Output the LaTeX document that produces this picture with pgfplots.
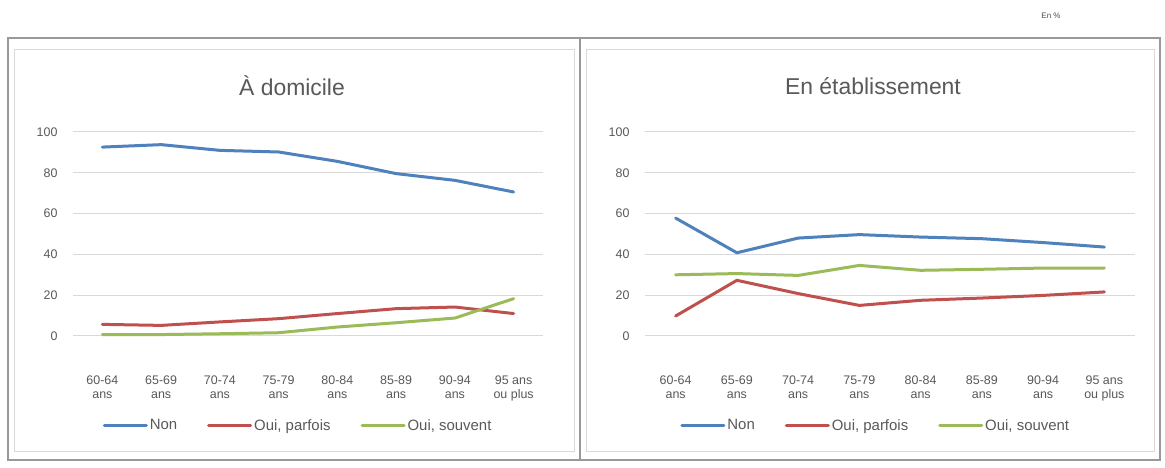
\documentclass[border=0pt]{standalone}
\usepackage{fontspec}
\setmainfont{Liberation Sans}
\usepackage{pgfplots}
\pgfplotsset{compat=1.18}
\definecolor{cblue}{HTML}{4F81BD}
\definecolor{cred}{HTML}{C0504D}
\definecolor{cgreen}{HTML}{9BBB59}
\definecolor{txt}{HTML}{595959}
\definecolor{gridc}{HTML}{D9D9D9}
\pgfplotsset{panel/.style={
  scale only axis, height=204bp,
  xmin=-0.5, xmax=7.5, ymin=0, ymax=100,
  xtick={0,...,7},
  xticklabels={{60-64\\ans},{65-69\\ans},{70-74\\ans},{75-79\\ans},{80-84\\ans},{85-89\\ans},{90-94\\ans},{95 ans\\ou plus}},
  xticklabel style={align=center, font=\fontsize{12.5}{14.5}\selectfont, text=txt, yshift=-36bp},
  ytick={0,20,...,100},
  yticklabel style={font=\fontsize{12.5}{15}\selectfont, text=txt, xshift=-12bp},
  /pgf/number format/assume math mode=true,
  axis x line*=bottom, axis y line*=left, axis line style={draw=none},
  major tick length=0pt,
  ymajorgrids, grid style={gridc, line width=1bp},
  legend columns=3,
  legend style={draw=none, fill=none, font=\fontsize{15}{17}\selectfont, text=txt,
     /tikz/every odd column/.append style={column sep=0bp},
     /tikz/every even column/.append style={column sep=28bp}},
  legend image code/.code={\draw[#1] (0bp,0bp) -- (42bp,0bp);},
  every axis plot/.append style={line width=3bp, line join=round, line cap=round},
  clip=false,
}}
\begin{document}
\begin{tikzpicture}
\useasboundingbox (0,0) rectangle (1165bp,468bp);
\fill[white] (0,0) rectangle (1165bp,468bp);
% frames
\draw[gridc, line width=1bp] (14bp,16bp) rectangle (574bp,418bp);
\draw[gridc, line width=1bp] (586bp,16bp) rectangle (1154bp,418bp);
\draw[black!40, line width=1.2bp] (8bp,8bp) rectangle (1160bp,430bp);
\draw[black!40, line width=1.2bp] (580bp,8bp) -- (580bp,430bp);
\node[font=\fontsize{8}{9}\selectfont, text=black!70] at (1051bp,452bp) {En \%};
\node[font=\fontsize{23}{28}\selectfont, text=txt] at (292bp,382bp) {À domicile};
\node[font=\fontsize{23}{28}\selectfont, text=txt] at (873bp,382bp) {En établissement};

\begin{axis}[panel, width=470bp, at={(73bp,132bp)}, anchor=south west,
  legend style={at={(0.479,-0.438)}, anchor=center}]
\addplot[cblue] coordinates {(0,92.6)(1,93.8)(2,91.0)(3,90.2)(4,85.6)(5,79.6)(6,76.3)(7,70.6)};
\addlegendentry{Non}
\addplot[cred] coordinates {(0,5.7)(1,5.2)(2,6.9)(3,8.5)(4,11.0)(5,13.4)(6,14.2)(7,11.0)};
\addlegendentry{Oui, parfois}
\addplot[cgreen] coordinates {(0,0.7)(1,0.7)(2,1.1)(3,1.6)(4,4.4)(5,6.5)(6,8.8)(7,18.3)};
\addlegendentry{Oui, souvent}
\end{axis}

\begin{axis}[panel, width=490bp, at={(645bp,132bp)}, anchor=south west,
  legend style={at={(0.471,-0.438)}, anchor=center}]
\addplot[cblue] coordinates {(0,57.8)(1,40.8)(2,48.0)(3,49.7)(4,48.5)(5,47.7)(6,45.8)(7,43.6)};
\addlegendentry{Non}
\addplot[cred] coordinates {(0,9.8)(1,27.3)(2,20.8)(3,15.0)(4,17.5)(5,18.6)(6,19.9)(7,21.6)};
\addlegendentry{Oui, parfois}
\addplot[cgreen] coordinates {(0,30.0)(1,30.6)(2,29.7)(3,34.6)(4,32.2)(5,32.7)(6,33.3)(7,33.3)};
\addlegendentry{Oui, souvent}
\end{axis}
\end{tikzpicture}
\end{document}
